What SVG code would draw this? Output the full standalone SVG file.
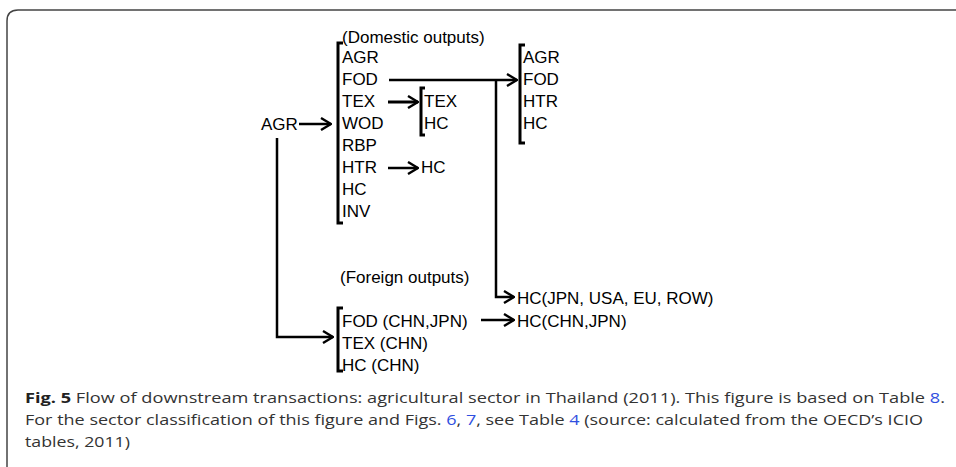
<svg xmlns="http://www.w3.org/2000/svg" width="956" height="467" viewBox="0 0 956 467">
<defs>
<marker id="arr" viewBox="0 0 12 14" refX="11" refY="7" markerWidth="12" markerHeight="14" markerUnits="userSpaceOnUse" orient="auto">
<path d="M1,1 L11,7 L1,13" fill="none" stroke="#000" stroke-width="2.4"/>
</marker>
<style>
.t{font-family:"Liberation Sans",Arial,sans-serif;font-size:17px;fill:#000}
.br{fill:none;stroke:#000;stroke-width:3}
.c{fill:none;stroke:#000;stroke-width:2.5;marker-end:url(#arr)}
.cap{font-family:"Open Sans","Noto Sans",sans-serif;font-size:15px;fill:#333}
.lk{fill:#2f4fe0}
</style>
</defs>
<rect width="956" height="467" fill="#fff"/>
<path d="M7,467 V21 Q7,10 18,10 H956" fill="none" stroke="#444" stroke-width="1.5"/>

<g id="connectors">
<path class="c" d="M299,124 H331"/>
<path class="c" d="M389,80 H517"/>
<path class="c" d="M496,80 V297 H514"/>
<path class="c" d="M388,102 H418" style="stroke-width:3"/>
<path class="c" d="M388,168 H418"/>
<path class="c" d="M277,138 V337 H333"/>
<path class="c" d="M481,320 H514"/>
</g>

<g id="node-agr">
<text class="t" x="261" y="130">AGR</text>
</g>

<g id="node-domestic">
<text class="t" x="342" y="43">(Domestic outputs)</text>
<path class="br" d="M343,43 H338 V223 H343"/>
<text class="t" x="342" y="63">AGR</text>
<text class="t" x="342" y="85">FOD</text>
<text class="t" x="342" y="107">TEX</text>
<text class="t" x="342" y="129">WOD</text>
<text class="t" x="342" y="151">RBP</text>
<text class="t" x="342" y="173">HTR</text>
<text class="t" x="342" y="195">HC</text>
<text class="t" x="342" y="217">INV</text>
</g>

<g id="node-tex">
<path class="br" d="M425,88 H421 V135 H425"/>
<text class="t" x="424" y="107">TEX</text>
<text class="t" x="424" y="129">HC</text>
</g>

<g id="node-htr-hc">
<text class="t" x="421" y="173">HC</text>
</g>

<g id="node-fod">
<path class="br" d="M525,45 H520 V143 H525"/>
<text class="t" x="523" y="63">AGR</text>
<text class="t" x="523" y="85">FOD</text>
<text class="t" x="523" y="107">HTR</text>
<text class="t" x="523" y="129">HC</text>
</g>

<g id="node-hc-world">
<text class="t" x="517" y="304">HC(JPN, USA, EU, ROW)</text>
</g>

<g id="node-foreign">
<text class="t" x="340" y="283">(Foreign outputs)</text>
<path class="br" d="M343,308 H338 V371 H343"/>
<text class="t" x="342" y="327">FOD (CHN,JPN)</text>
<text class="t" x="342" y="349">TEX (CHN)</text>
<text class="t" x="342" y="371">HC (CHN)</text>
</g>

<g id="node-hc-chnjpn">
<text class="t" x="517" y="327">HC(CHN,JPN)</text>
</g>

<g id="caption">
<text class="cap" x="25" y="403" textLength="920" lengthAdjust="spacingAndGlyphs"><tspan font-weight="bold" fill="#222">Fig. 5</tspan>  Flow of downstream transactions: agricultural sector in Thailand (2011). This figure is based on Table <tspan class="lk">8</tspan>.</text>
<text class="cap" x="25" y="425" textLength="898" lengthAdjust="spacingAndGlyphs">For the sector classification of this figure and Figs. <tspan class="lk">6</tspan>, <tspan class="lk">7</tspan>, see Table <tspan class="lk">4</tspan> (source: calculated from the OECD’s ICIO</text>
<text class="cap" x="25" y="447" textLength="105" lengthAdjust="spacingAndGlyphs">tables, 2011)</text>
</g>
</svg>
